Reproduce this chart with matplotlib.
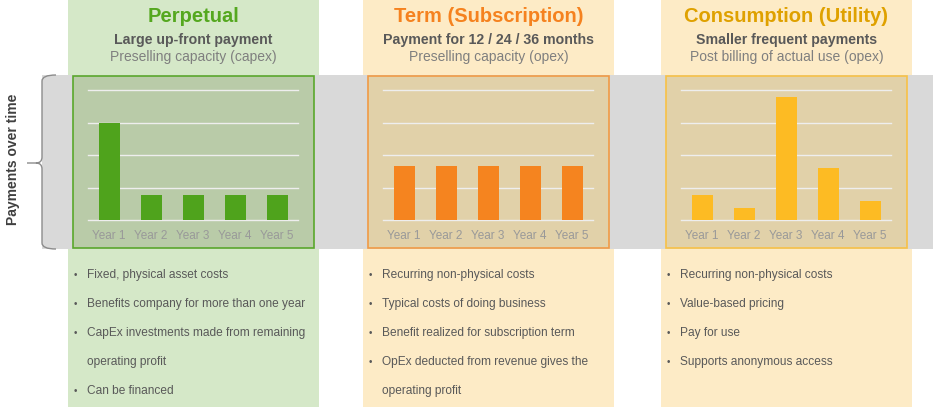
import matplotlib
matplotlib.use("Agg")
import matplotlib.pyplot as plt
from matplotlib.patches import Rectangle, PathPatch
from matplotlib.path import Path
from matplotlib.transforms import Affine2D

plt.rcParams['font.family'] = ['Liberation Sans', 'DejaVu Sans']

W, H = 933, 413

years = ["Year 1", "Year 2", "Year 3", "Year 4", "Year 5"]
perpetual = [3.0, 0.77, 0.77, 0.77, 0.77]
term = [1.65, 1.65, 1.65, 1.65, 1.65]
consumption = [0.78, 0.38, 3.8, 1.6, 0.58]

titles = ["Perpetual", "Term (Subscription)", "Consumption (Utility)"]
subtitles_bold = ["Large up-front payment", "Payment for 12 / 24 / 36 months",
                  "Smaller frequent payments"]
subtitles = ["Preselling capacity (capex)", "Preselling capacity (opex)",
             "Post billing of actual use (opex)"]
bullets = [
    ["Fixed, physical asset costs", "Benefits company for more than one year",
     "CapEx investments made from remaining", None, "Can be financed"],
    ["Recurring non-physical costs", "Typical costs of doing business",
     "Benefit realized for subscription term", "OpEx deducted from revenue gives the", None],
    ["Recurring non-physical costs", "Value-based pricing", "Pay for use",
     "Supports anonymous access"],
]
wrapped = [
    {3: "operating profit"},
    {4: "operating profit"},
    {},
]

# style per column
col_x = [68, 363, 661]
col_w = 251
col_bg = ["#d5e8c8", "#fdebc6", "#fdebc6"]
box_bg = ["#b9cba8", "#e1d1a9", "#e1d1a9"]
box_edge = ["#5aa82c", "#f19a45", "#f8c146"]
bar_color = ["#4fa31c", "#f5841f", "#fdbb23"]
title_color = ["#55a81f", "#f5821f", "#dfa100"]
series = [perpetual, term, consumption]

fig = plt.figure(figsize=(W / 100, H / 100), dpi=100)
# pixel coords, origin top-left
T = Affine2D().scale(1 / W, -1 / H).translate(0, 1) + fig.transFigure

def rect(x0, y0, x1, y1, **kw):
    fig.add_artist(Rectangle((x0, y1), x1 - x0, y0 - y1, transform=T, **kw))

band_top, band_bot = 75, 249

for i in range(3):
    x0 = col_x[i]
    rect(x0, 0, x0 + col_w, 407, facecolor=col_bg[i], edgecolor="none", zorder=0)

rect(42, band_top, W, band_bot, facecolor="#d9d9d9", edgecolor="none", zorder=1)

for i in range(3):
    x0 = col_x[i]
    cx = x0 + col_w / 2
    rect(x0 + 5, band_top + 1, x0 + col_w - 5, band_bot - 1, facecolor=box_bg[i],
         edgecolor=box_edge[i], linewidth=1.2, zorder=2)

    fig.text(cx / W, 1 - 17 / H, titles[i], ha="center", va="center",
             fontsize=14.5, fontweight="bold", color=title_color[i])
    fig.text(cx / W, 1 - 40 / H, subtitles_bold[i], ha="center", va="center",
             fontsize=10.2, fontweight="bold", color="#595959")
    fig.text(cx / W, 1 - 57 / H, subtitles[i], ha="center", va="center",
             fontsize=10, color="#7f7f7f")

    # bar chart
    ax = fig.add_axes([(x0 + 20) / W, (H - 220) / H, 210 / W, 130 / H])
    ax.set_zorder(3)
    ax.patch.set_alpha(0)
    ax.bar(years, series[i], width=0.5, color=bar_color[i], zorder=3)
    ax.set_xlim(-0.5, 4.5)
    ax.set_ylim(0, 4)
    ax.set_yticks([0, 1, 2, 3, 4])
    ax.yaxis.grid(True, color="#eeeeee", linewidth=1.0, zorder=1)
    for gl in ax.yaxis.get_gridlines():
        gl.set_clip_on(False)
    ax.tick_params(axis="y", left=False, labelleft=False)
    ax.tick_params(axis="x", length=0, pad=7, labelsize=8.5, labelcolor="#999999")
    for s in ax.spines.values():
        s.set_visible(False)

    # bullets
    lines = bullets[i]
    for k, line in enumerate(lines):
        y = 1 - (275 + 29 * k) / H
        if line is not None:
            fig.text((x0 + 6) / W, y, "\u2022", ha="left", va="center", fontsize=7,
                     color="#595959")
            fig.text((x0 + 19) / W, y, line, ha="left", va="center", fontsize=8.6,
                     color="#595959")
        if k in wrapped[i]:
            fig.text((x0 + 19) / W, y, wrapped[i][k], ha="left", va="center",
                     fontsize=8.6, color="#595959")

# brace on the left
verts = [(56, 75), (42, 75), (42, 81), (42, 157), (42, 163), (36, 163),
         (42, 163), (42, 169), (42, 243), (42, 249), (56, 249),
         (36, 163), (27, 163)]
codes = [Path.MOVETO, Path.CURVE3, Path.CURVE3, Path.LINETO, Path.CURVE3, Path.CURVE3,
         Path.CURVE3, Path.CURVE3, Path.LINETO, Path.CURVE3, Path.CURVE3,
         Path.MOVETO, Path.LINETO]
fig.add_artist(PathPatch(Path(verts, codes), transform=T, facecolor="none",
                         edgecolor="#8c8c8c", linewidth=1.0, zorder=4))
fig.text(13 / W, 1 - 159 / H, "Payments over time", rotation=90, ha="center",
         va="center", fontsize=10, fontweight="bold", color="#404040")

fig.savefig("out.png", dpi=100)
